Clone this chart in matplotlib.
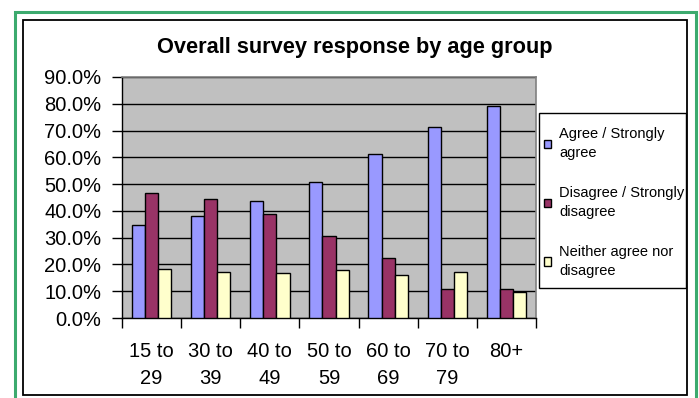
import matplotlib
matplotlib.use('Agg')
import numpy as np
from matplotlib import pyplot as plt
from matplotlib.patches import Rectangle
from matplotlib.ticker import FixedLocator, PercentFormatter

plt.rcParams['font.family'] = ['Liberation Sans', 'DejaVu Sans']

age_groups = ['15 to\n29', '30 to\n39', '40 to\n49', '50 to\n59', '60 to\n69', '70 to\n79', '80+']
agree = [34.7, 38.2, 43.8, 50.9, 61.2, 71.4, 79.2]
disagree = [46.7, 44.4, 38.7, 30.6, 22.3, 10.7, 10.7]
neither = [18.3, 17.3, 16.8, 17.8, 16.2, 17.3, 9.6]
series_labels = ['Agree / Strongly\nagree', 'Disagree / Strongly\ndisagree', 'Neither agree nor\ndisagree']
series_colors = ['#9999FF', '#993366', '#FFFFCC']

W, H = 699, 398
fig = plt.figure(figsize=(W / 100, H / 100), dpi=100)
fig.patch.set_facecolor('white')

# outer green frame and inner black chart border
fig.add_artist(Rectangle((15 / W, -0.05), 681 / W, 1.05 - 12 / H, transform=fig.transFigure,
                         fill=False, edgecolor='#3CAA6E', linewidth=2.2))
fig.add_artist(Rectangle((23 / W, 1 - 395 / H), 664 / W, 375 / H, transform=fig.transFigure,
                         fill=False, edgecolor='black', linewidth=1.3))

ax = fig.add_axes([122 / W, 1 - 318 / H, 414 / W, 241 / H])
ax.set_facecolor('#C0C0C0')

x = np.arange(len(age_groups))
width = 0.222
handles = []
for i, (vals, col) in enumerate(zip([agree, disagree, neither], series_colors)):
    b = ax.bar(x + (i - 1) * width, vals, width, color=col, edgecolor='black',
               linewidth=1.0, zorder=3)
    handles.append(b)

ax.set_xlim(-0.5, len(age_groups) - 0.5)
ax.set_ylim(0, 90)
ax.yaxis.set_major_locator(FixedLocator(np.arange(0, 91, 10)))
ax.yaxis.set_major_formatter(PercentFormatter(decimals=1))
ax.grid(axis='y', color='black', linewidth=1.0, zorder=1)
ax.set_axisbelow(True)

ax.set_xticks(x)
ax.set_xticklabels(age_groups, linespacing=1.52)
ax.set_xticks(np.arange(-0.5, len(age_groups), 1), minor=True)
ax.tick_params(axis='x', which='major', length=0, pad=17.5, labelsize=14.5)
ax.tick_params(axis='x', which='minor', length=7, width=1, direction='out')
ax.tick_params(axis='y', length=7, width=1, direction='out', pad=8, labelsize=14.5)

for side in ['top', 'right']:
    ax.spines[side].set_color('#808080')
    ax.spines[side].set_linewidth(1.2)
for side in ['left', 'bottom']:
    ax.spines[side].set_color('black')
    ax.spines[side].set_linewidth(1.0)

fig.text(355 / W, 1 - 47 / H, 'Overall survey response by age group', ha='center', va='center',
         fontsize=15.7, fontweight='bold')

# legend box drawn separately so its padding can follow the chart border
fig.add_artist(Rectangle((539 / W, 1 - 288 / H), 147 / W, 175 / H, transform=fig.transFigure,
                         facecolor='white', edgecolor='black', linewidth=1.0, zorder=4))
leg = fig.legend(handles, series_labels, loc='upper left', bbox_to_anchor=(544 / W, 1 - 127 / H),
                 fontsize=10.5, frameon=False, handlelength=0.5, handleheight=0.5,
                 handletextpad=0.55, labelspacing=1.78, borderpad=0, borderaxespad=0)
leg.set_zorder(5)
for t in leg.get_texts():
    t.set_linespacing(1.45)

fig.savefig('out.png', dpi=100)
